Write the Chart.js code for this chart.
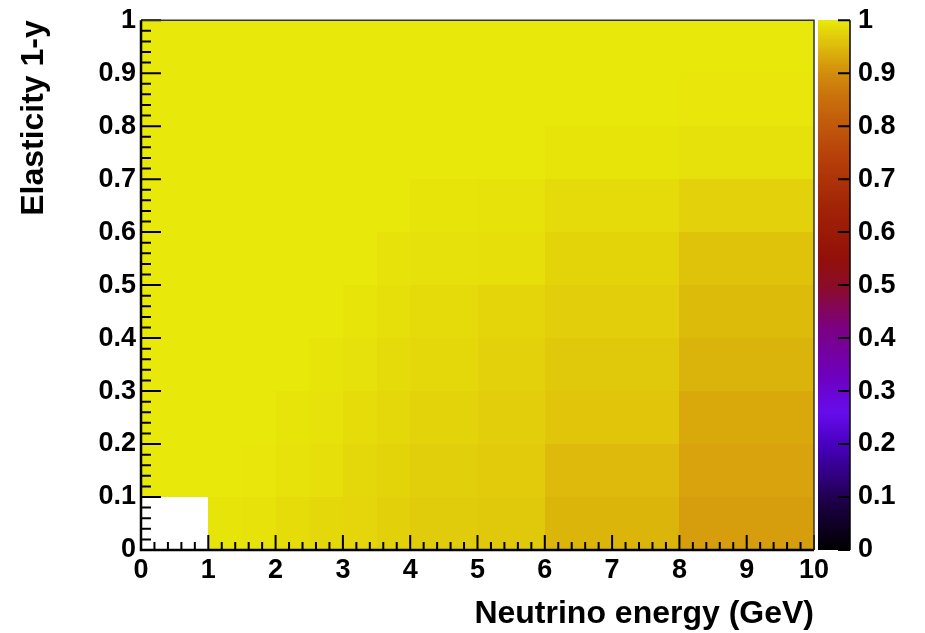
<!doctype html>
<html>
<head>
	<title>Elasticity vs neutrino energy</title>
	<script src="https://cdn.jsdelivr.net/npm/chart.js@4.4.1/dist/chart.umd.min.js"></script>
	<style>
		html, body { margin: 0; padding: 0; background: #fff; }
		#container { width: 925px; height: 633px; }
	</style>
</head>
<body>
<div id="container">
	<canvas id="canvas"></canvas>
</div>
<script>

	// bin edges
	var energyEdges = [0, 1, 1.5, 2, 2.5, 3, 3.5, 4, 5, 6, 8, 10];
	var elasticityEdges = [0, 0.1, 0.2, 0.3, 0.4, 0.5, 0.6, 0.7, 0.8, 0.9, 1.0];

	// cell contents, one array per energy bin, from y = 0 upwards
	var e0to1   = [null, 1, 1, 1, 1, 1, 1, 1, 1, 1];
	var e1to1p5 = [0.996, 1, 1, 1, 1, 1, 1, 1, 1, 1];
	var e1p5to2 = [0.994, 0.998, 1, 1, 1, 1, 1, 1, 1, 1];
	var e2to2p5 = [0.987, 0.993, 0.996, 1, 1, 1, 1, 1, 1, 1];
	var e2p5to3 = [0.983, 0.99, 0.993, 0.996, 1, 1, 1, 1, 1, 1];
	var e3to3p5 = [0.98, 0.983, 0.987, 0.992, 0.996, 1, 1, 1, 1, 1];
	var e3p5to4 = [0.974, 0.978, 0.982, 0.986, 0.99, 0.995, 1, 1, 1, 1];
	var e4to5   = [0.97, 0.973, 0.977, 0.981, 0.985, 0.992, 0.996, 1, 1, 1];
	var e5to6   = [0.965, 0.968, 0.972, 0.975, 0.979, 0.99, 0.995, 1, 1, 1];
	var e6to8   = [0.945, 0.95, 0.962, 0.965, 0.972, 0.978, 0.986, 0.996, 1, 1];
	var e8to10  = [0.918, 0.925, 0.932, 0.943, 0.951, 0.96, 0.975, 0.992, 0.998, 1];

	var columns = [e0to1, e1to1p5, e1p5to2, e2to2p5, e2p5to3, e3to3p5, e3p5to4, e4to5, e5to6, e6to8, e8to10];

	// colour palette stops [value, r, g, b]
	var paletteStops = [
		[0.00, 0, 0, 0],
		[0.08, 25, 0, 60],
		[0.20, 72, 0, 190],
		[0.26, 102, 12, 236],
		[0.33, 110, 0, 190],
		[0.42, 124, 0, 130],
		[0.50, 140, 12, 40],
		[0.55, 146, 16, 10],
		[0.65, 162, 36, 6],
		[0.75, 184, 66, 10],
		[0.85, 200, 110, 12],
		[0.90, 210, 140, 12],
		[1.00, 232, 232, 10]
	];

	function palette(v) {
		for (var i = 1; i < paletteStops.length; i++) {
			var a = paletteStops[i - 1], b = paletteStops[i];
			if (v <= b[0]) {
				var t = (v - a[0]) / (b[0] - a[0]);
				return 'rgb(' + Math.round(a[1] + t * (b[1] - a[1])) + ',' +
					Math.round(a[2] + t * (b[2] - a[2])) + ',' +
					Math.round(a[3] + t * (b[3] - a[3])) + ')';
			}
		}
		var l = paletteStops[paletteStops.length - 1];
		return 'rgb(' + l[1] + ',' + l[2] + ',' + l[3] + ')';
	}

	var FONT = '"Liberation Sans", Arial, Helvetica, sans-serif';

	var heatPlugin = {
		id: 'heat',
		beforeDatasetsDraw: function(chart) {
			var ctx = chart.ctx, x = chart.scales.x, y = chart.scales.y, z = chart.scales.z;
			ctx.save();
			// cells
			for (var i = 0; i < columns.length; i++) {
				var x0 = Math.round(x.getPixelForValue(energyEdges[i]));
				var x1 = Math.round(x.getPixelForValue(energyEdges[i + 1]));
				for (var j = 0; j < columns[i].length; j++) {
					var v = columns[i][j];
					if (v === null) continue;
					var y0 = Math.round(y.getPixelForValue(elasticityEdges[j]));
					var y1 = Math.round(y.getPixelForValue(elasticityEdges[j + 1]));
					ctx.fillStyle = palette(v);
					ctx.fillRect(x0, y1, x1 - x0, y0 - y1);
				}
			}
			// colour bar
			var bl = z.left + 4, br = z.left + 36;
			var n = 255;
			for (var k = 0; k < n; k++) {
				var a = z.getPixelForValue(k / n), b = z.getPixelForValue((k + 1) / n);
				ctx.fillStyle = palette((k + 0.5) / n);
				ctx.fillRect(bl, Math.floor(b), br - bl, Math.ceil(a) - Math.floor(b));
			}
			ctx.restore();
		},
		afterDatasetsDraw: function(chart) {
			var ctx = chart.ctx, x = chart.scales.x, y = chart.scales.y, z = chart.scales.z;
			var area = chart.chartArea;
			ctx.save();
			ctx.strokeStyle = '#000';
			ctx.lineWidth = 2;
			ctx.beginPath();
			// x ticks, pointing up into the frame
			for (var t = 0; t <= 50; t++) {
				var px = x.getPixelForValue(t * 0.2);
				var len = (t % 5 === 0) ? 15 : 8;
				ctx.moveTo(px, area.bottom);
				ctx.lineTo(px, area.bottom - len);
			}
			// y ticks, pointing right into the frame
			for (var s = 0; s <= 50; s++) {
				var py = y.getPixelForValue(s * 0.02);
				var l2 = (s % 5 === 0) ? 20 : 10;
				ctx.moveTo(area.left, py);
				ctx.lineTo(area.left + l2, py);
			}
			// colour bar ticks
			var br = z.left + 36;
			z.ticks.forEach(function(tk) {
				var pz = z.getPixelForValue(tk.value);
				ctx.moveTo(br, pz);
				ctx.lineTo(br - 12, pz);
			});
			ctx.stroke();

			// colour bar axis line
			ctx.beginPath();
			ctx.lineWidth = 1.5;
			ctx.moveTo(br, z.top);
			ctx.lineTo(br, z.bottom);
			ctx.stroke();

			// frame: thin top/right, heavy axis lines
			ctx.beginPath();
			ctx.lineWidth = 1.5;
			ctx.strokeStyle = '#333';
			ctx.moveTo(area.left, area.top);
			ctx.lineTo(area.right, area.top);
			ctx.lineTo(area.right, area.bottom);
			ctx.stroke();
			ctx.beginPath();
			ctx.lineWidth = 2.5;
			ctx.strokeStyle = '#000';
			ctx.moveTo(area.left, area.top);
			ctx.lineTo(area.left, area.bottom);
			ctx.lineTo(area.right, area.bottom);
			ctx.stroke();
			ctx.restore();
		}
	};

	function shortLabel(value) {
		return String(+value.toFixed(2));
	}

	var tickFont = { family: FONT, size: 27, weight: 'bold' };
	var titleFont = { family: FONT, size: 32, weight: 'bold' };

	var ctx = document.getElementById("canvas").getContext("2d");
	window.myChart = new Chart(ctx, {
		type: 'scatter',
		data: { datasets: [] },
		plugins: [heatPlugin],
		options: {
			responsive: true,
			maintainAspectRatio: false,
			animation: false,
			events: [],
			layout: { padding: { top: 18, left: 0, right: 0, bottom: 0 } },
			plugins: {
				legend: { display: false },
				tooltip: { enabled: false },
				title: { display: false }
			},
			scales: {
				x: {
					type: 'linear',
					position: 'bottom',
					min: 0,
					max: 10,
					grid: { display: false, drawTicks: true, tickLength: 3 },
					border: { display: false },
					ticks: { stepSize: 1, color: '#000', font: tickFont, padding: 1, maxRotation: 0, autoSkip: false, callback: shortLabel },
					title: {
						display: true,
						text: 'Neutrino energy (GeV)',
						align: 'end',
						color: '#000',
						font: titleFont,
						padding: { top: 0, bottom: 0 }
					},
					afterFit: function(scale) { scale.height = 83; }
				},
				y: {
					type: 'linear',
					position: 'left',
					min: 0,
					max: 1,
					grid: { display: false, drawTicks: true, tickLength: 4 },
					border: { display: false },
					ticks: { stepSize: 0.1, color: '#000', font: tickFont, padding: 1, autoSkip: false, callback: shortLabel },
					title: {
						display: true,
						text: 'Elasticity 1-y',
						align: 'end',
						color: '#000',
						font: titleFont,
						padding: { top: 15, bottom: 0 }
					},
					afterFit: function(scale) { scale.width = 141; }
				},
				z: {
					type: 'linear',
					position: 'right',
					min: 0,
					max: 1,
					grid: { display: false, drawTicks: true, tickLength: 40 },
					border: { display: false },
					ticks: { stepSize: 0.1, color: '#000', font: tickFont, padding: 4, autoSkip: false, callback: shortLabel },
					afterFit: function(scale) { scale.width = 111; }
				}
			}
		}
	});

</script>
</body>
</html>
